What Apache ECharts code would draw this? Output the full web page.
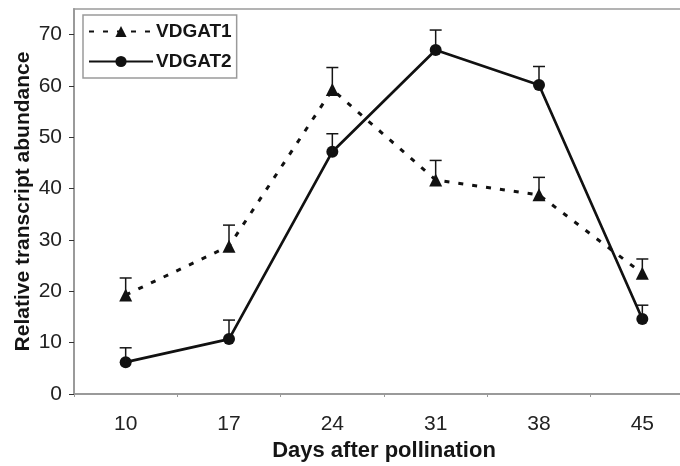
<!DOCTYPE html>
<html>
<head>
<meta charset="utf-8">
<script src="https://cdn.jsdelivr.net/npm/echarts@6/dist/echarts.min.js"></script>
<style>
  html, body { margin: 0; padding: 0; background: #fff; }
  #main { width: 680px; height: 466px; }
</style>
</head>
<body>
<div id="main"></div>
<script>
// categories (days after pollination)
var days = ['10', '17', '24', '31', '38', '45'];
// means and upper error amounts
var vdgat1 = [19.3, 28.8, 59.3, 41.7, 38.8, 23.5];
var vdgat1Err = [3.3, 4.1, 4.3, 3.8, 3.4, 2.8];
var vdgat2 = [6.2, 10.7, 47.2, 67.0, 60.2, 14.6];
var vdgat2Err = [2.8, 3.7, 3.5, 3.9, 3.6, 2.7];
var yTicks = [0, 10, 20, 30, 40, 50, 60, 70];

var font = 'Liberation Sans';

// upward-only error bars with a cap
function errorBars(name, vals, errs) {
  return {
    name: name,
    type: 'custom',
    silent: true,
    z: 3,
    data: vals.map(function (v, i) { return [i, v, v + errs[i]]; }),
    renderItem: function (params, api) {
      var p = api.coord([api.value(0), api.value(1)]);
      var t = api.coord([api.value(0), api.value(2)]);
      var st = { stroke: '#151515', lineWidth: 1.5 };
      return {
        type: 'group',
        children: [
          { type: 'line', shape: { x1: p[0], y1: p[1], x2: t[0], y2: t[1] }, style: st },
          { type: 'line', shape: { x1: t[0] - 6, y1: t[1], x2: t[0] + 6, y2: t[1] }, style: st }
        ]
      };
    }
  };
}

var myChart = echarts.init(document.getElementById('main'));
var option = {
  animation: false,
  backgroundColor: '#fff',
  textStyle: { fontFamily: font },
  grid: {
    left: 74, right: -14, top: 9, bottom: 72,
    outerBoundsMode: 'none',
    containLabel: false,
    show: true, borderColor: '#9a9a9a', borderWidth: 1.5
  },
  legend: {
    data: ['VDGAT1', 'VDGAT2'],
    orient: 'vertical',
    left: 83, top: 15,
    padding: [7, 5, 7, 5],
    itemWidth: 64, itemHeight: 14, itemGap: 11,
    borderColor: '#9a9a9a', borderWidth: 1.5,
    backgroundColor: '#fff',
    textStyle: { fontFamily: font, fontSize: 19, fontWeight: 'bold', color: '#151515', padding: [0, 0, 0, -2] }
  },
  xAxis: {
    type: 'category',
    data: days,
    boundaryGap: true,
    name: 'Days after pollination',
    nameLocation: 'middle',
    nameGap: 46,
    nameTextStyle: { fontFamily: font, fontSize: 22, fontWeight: 'bold', color: '#151515' },
    axisLine: { show: true, lineStyle: { color: '#9a9a9a', width: 2 } },
    axisTick: { show: true, inside: false, length: 3, lineStyle: { color: '#9a9a9a' } },
    axisLabel: { fontFamily: font, fontSize: 21, color: '#222', margin: 20 },
    splitLine: { show: false }
  },
  yAxis: {
    type: 'value',
    min: 0, max: 75, interval: 10,
    name: 'Relative transcript abundance',
    nameLocation: 'middle',
    nameGap: 40,
    nameMoveOverlap: false,
    nameTextStyle: { fontFamily: font, fontSize: 21, fontWeight: 'bold', color: '#151515' },
    axisLine: { show: true, lineStyle: { color: '#9a9a9a', width: 2 } },
    axisTick: { show: true, length: 5, customValues: yTicks, lineStyle: { color: '#333' } },
    axisLabel: { fontFamily: font, fontSize: 21, color: '#222', margin: 12, customValues: yTicks },
    splitLine: { show: false }
  },
  series: [
    {
      name: 'VDGAT1',
      type: 'line',
      data: vdgat1,
      symbol: 'triangle',
      symbolSize: 13,
      itemStyle: { color: '#111' },
      lineStyle: { color: '#111', width: 3, type: [5, 9] },
      z: 2
    },
    {
      name: 'VDGAT2',
      type: 'line',
      data: vdgat2,
      symbol: 'circle',
      symbolSize: 12,
      itemStyle: { color: '#111' },
      lineStyle: { color: '#111', width: 2.7, type: 'solid' },
      z: 2
    },
    errorBars('err1', vdgat1, vdgat1Err),
    errorBars('err2', vdgat2, vdgat2Err)
  ]
};
myChart.setOption(option);
</script>
</body>
</html>
